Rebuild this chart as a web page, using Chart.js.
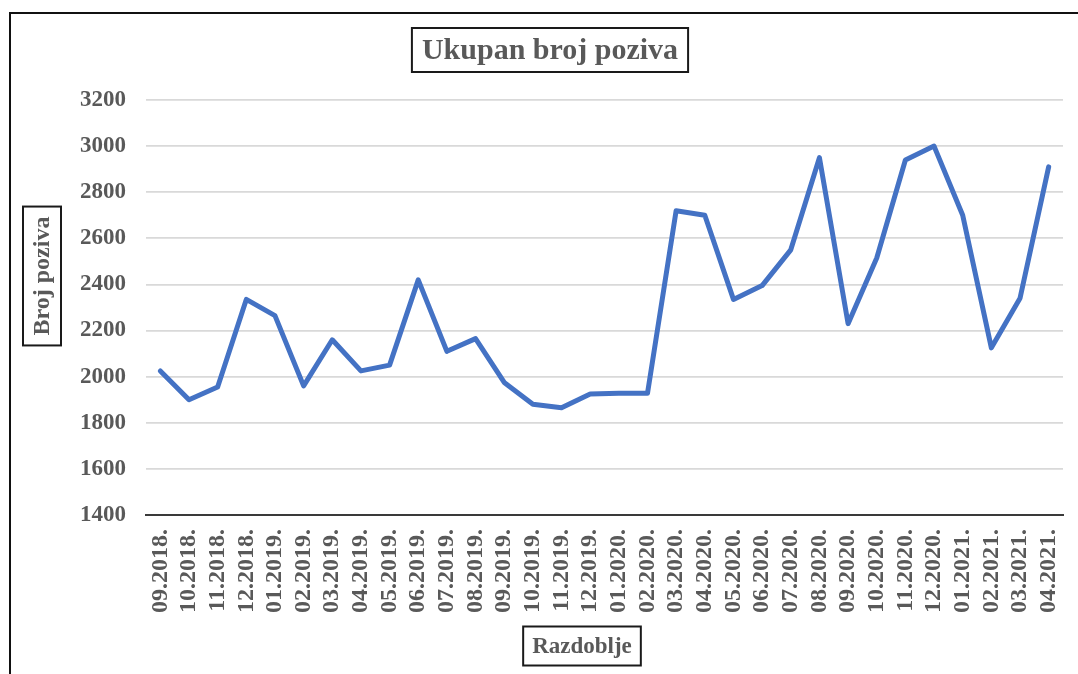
<!DOCTYPE html>
<html>
<head>
<meta charset="utf-8">
<script src="https://cdn.jsdelivr.net/npm/chart.js@4.4.1/dist/chart.umd.min.js"></script>
<style>
  html, body { margin: 0; padding: 0; background: #fff; overflow: hidden; }
  #wrap { position: relative; width: 1078px; height: 674px; }
  #frame {
    position: absolute; left: 9px; top: 12px; width: 1200px; height: 800px;
    border-left: 2px solid #111; border-top: 2px solid #111;
    pointer-events: none;
  }
</style>
</head>
<body>
<div id="wrap">
  <canvas id="callsChart" width="1078" height="674"></canvas>
  <div id="frame"></div>
</div>
<script>
const months = [
  "09.2018.", "10.2018.", "11.2018.", "12.2018.",
  "01.2019.", "02.2019.", "03.2019.", "04.2019.", "05.2019.", "06.2019.",
  "07.2019.", "08.2019.", "09.2019.", "10.2019.", "11.2019.", "12.2019.",
  "01.2020.", "02.2020.", "03.2020.", "04.2020.", "05.2020.", "06.2020.",
  "07.2020.", "08.2020.", "09.2020.", "10.2020.", "11.2020.", "12.2020.",
  "01.2021.", "02.2021.", "03.2021.", "04.2021.",
];
const totalCalls = [
  2025, 1900, 1955, 2335, 2265, 1960, 2160, 2025, 2050, 2420,
  2110, 2165, 1975, 1880, 1865, 1925, 1928, 1928, 2720, 2700,
  2335, 2395, 2550, 2950, 2230, 2515, 2940, 3000, 2700, 2125,
  2340, 2910,
];
const chartTitle = "Ukupan broj poziva";
const yTitle = "Broj poziva";
const xTitle = "Razdoblje";

const textColor = "#595959";
const serif = "'Liberation Serif', 'Times New Roman', serif";

function drawBoxedText(ctx, text, cx, cy, size, rotate, padX, padY) {
  ctx.save();
  ctx.translate(cx, cy);
  if (rotate) ctx.rotate(-Math.PI / 2);
  ctx.font = `bold ${size}px ${serif}`;
  const w = ctx.measureText(text).width + padX * 2;
  const h = size + padY * 2;
  ctx.fillStyle = "#fff";
  ctx.fillRect(-w / 2, -h / 2, w, h);
  ctx.strokeStyle = "#1a1a1a";
  ctx.lineWidth = 2;
  ctx.strokeRect(-w / 2, -h / 2, w, h);
  ctx.fillStyle = textColor;
  ctx.textAlign = "center";
  ctx.textBaseline = "middle";
  ctx.fillText(text, 0, 1);
  ctx.restore();
}

const boxedTitles = {
  id: "boxedTitles",
  afterDraw(chart) {
    const ctx = chart.ctx;
    drawBoxedText(ctx, chartTitle, 550, 50, 30, false, 10, 7);
    drawBoxedText(ctx, yTitle, 42, 276, 24, true, 10, 7);
    drawBoxedText(ctx, xTitle, 582, 646, 23, false, 9, 8);
  },
};

new Chart(document.getElementById("callsChart"), {
  type: "line",
  data: {
    labels: months,
    datasets: [
      {
        label: chartTitle,
        data: totalCalls,
        borderColor: "#4472C4",
        borderWidth: 5,
        borderJoinStyle: "round",
        borderCapStyle: "round",
        pointRadius: 0,
        tension: 0,
        fill: false,
      },
    ],
  },
  options: {
    responsive: false,
    animation: false,
    layout: { padding: { left: 0, top: 100, right: 15, bottom: 0 } },
    plugins: {
      legend: { display: false },
      title: { display: false },
      tooltip: { enabled: false },
    },
    scales: {
      x: {
        offset: true,
        grid: { display: false, drawTicks: false },
        border: { display: true, color: "#3a3a3a", width: 2 },
        ticks: {
          color: textColor,
          font: { family: serif, size: 24, weight: "bold" },
          minRotation: 90,
          maxRotation: 90,
          autoSkip: false,
          padding: 14,
        },
        afterFit: (scale) => {
          scale.height = 159;
          scale.paddingLeft = 0;
          scale.paddingRight = 0;
        },
      },
      y: {
        min: 1400,
        max: 3200,
        grid: { color: "#d9d9d9", lineWidth: 1.8, drawTicks: false },
        border: { display: false },
        ticks: {
          stepSize: 200,
          color: textColor,
          font: { family: serif, size: 23, weight: "bold" },
          padding: 20,
          callback: (value) => String(value),
        },
        afterFit: (scale) => { scale.width = 146; },
      },
    },
  },
  plugins: [boxedTitles],
});
</script>
</body>
</html>
